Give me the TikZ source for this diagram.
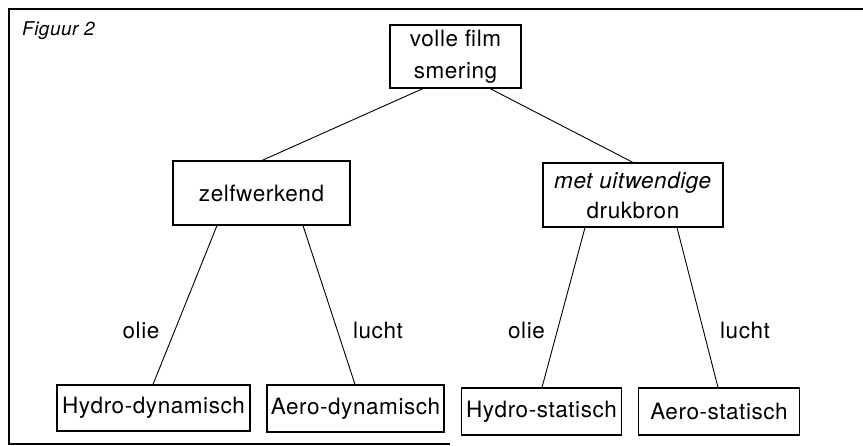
\documentclass[tikz,border=0pt]{standalone}
\usepackage{fontspec}
\setmainfont{TeX Gyre Heros}[LetterSpace=2.5]
\begin{document}
\begin{tikzpicture}[x=1pt,y=-1pt,
  box/.style={draw,line width=1.1pt,inner sep=0pt,align=center,font=\fontsize{22.5}{31}\selectfont},
  lab/.style={inner sep=0pt,font=\fontsize{22.5}{25}\selectfont},
  conn/.style={line width=0.9pt}]
\useasboundingbox (0,0) rectangle (863,446);
\draw[line width=1.6pt] (450,444) -- (9,444) -- (9,9) -- (863,9);
\node[inner sep=0pt,anchor=west,font=\fontsize{19}{22}\selectfont\itshape] (fig) at (22,31) {Figuur 2};
\node[box,minimum width=131pt,minimum height=63pt,font=\fontsize{22.5}{32}\selectfont] (top) at (455.5,56.5) {volle film\\smering};
\node[box,minimum width=177pt,minimum height=64pt] (zelf) at (261.5,193) {zelfwerkend};
\node[box,minimum width=180pt,minimum height=64pt,font=\fontsize{22.5}{30}\selectfont] (met) at (633,195) {\textit{met uitwendige}\\drukbron};
\node[box,minimum width=193pt,minimum height=46pt] (hd) at (153.5,408) {Hydro-dynamisch};
\node[box,minimum width=177pt,minimum height=47pt] (ad) at (355.5,408.5) {Aero-dynamisch};
\node[box,minimum width=160pt,minimum height=47pt] (hs) at (541.5,411.5) {Hydro-statisch};
\node[box,minimum width=161pt,minimum height=47pt] (as) at (719,411.5) {Aero-statisch};
\draw[conn] ([xshift=-32.5pt]top.south) -- ([xshift=0.5pt]zelf.north);
\draw[conn] ([xshift=34.5pt]top.south) -- (met.north);
\draw[conn] ([xshift=-44.5pt]zelf.south) -- ([xshift=-0.5pt]hd.north);
\draw[conn] ([xshift=41.5pt]zelf.south) -- ([xshift=-0.5pt]ad.north);
\draw[conn] ([xshift=-48pt]met.south) -- ([xshift=0.5pt]hs.north);
\draw[conn] ([xshift=44pt]met.south) -- ([xshift=-1pt]as.north);
\node[lab] (l1) at (141,330) {olie};
\node[lab] (l2) at (378,330) {lucht};
\node[lab] (l3) at (526.5,330) {olie};
\node[lab] (l4) at (745,330) {lucht};
\end{tikzpicture}
\end{document}
